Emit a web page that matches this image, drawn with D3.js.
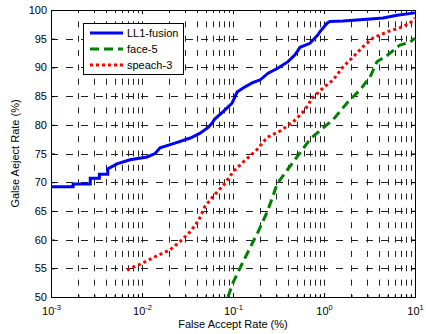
<!DOCTYPE html>
<html>
<head>
<meta charset="utf-8">
<script src="https://cdn.jsdelivr.net/npm/d3@7"></script>
<style>
  html, body { margin: 0; padding: 0; background: #fff; }
  svg { display: block; font-family: "Liberation Sans", Arial, sans-serif; }
</style>
</head>
<body>
<svg id="chart" width="426" height="334"></svg>
<script>
// DET curves: false accept rate (%) vs false reject rate (%)
const seriesNames = ["LL1-fusion", "face-5", "speach-3"];
const seriesColors = ["#0000ff", "#008000", "#ff0000"];

const fusionFar = [0.001, 0.00175, 0.00175, 0.0027, 0.0027, 0.0034, 0.0034, 0.0042, 0.0042, 0.0053, 0.0074, 0.0114, 0.0139, 0.0158, 0.023, 0.034, 0.043, 0.053, 0.059, 0.063, 0.078, 0.098, 0.111, 0.129, 0.162, 0.198, 0.243, 0.313, 0.402, 0.48, 0.545, 0.70, 0.86, 0.90, 1.08, 1.16, 1.62, 2.97, 4.45, 6.34, 10];
const fusionFrr = [69.2, 69.2, 69.7, 69.7, 70.7, 70.7, 71.4, 71.4, 72.3, 73.2, 73.9, 74.4, 75.0, 76.0, 76.8, 77.7, 78.5, 79.5, 80.3, 81.0, 82.3, 83.8, 85.7, 86.4, 87.3, 87.8, 89.0, 89.9, 91.0, 92.2, 93.5, 94.2, 95.7, 96.2, 97.7, 98.0, 98.1, 98.4, 98.6, 99.1, 99.5];

const faceFar = [0.088, 0.1, 0.119, 0.154, 0.188, 0.237, 0.275, 0.305, 0.402, 0.545, 0.702, 0.904, 1.26, 1.79, 2.49, 3.2, 3.82, 5.05, 6.84, 8.81, 10];
const faceFrr = [50.0, 52.5, 55.0, 58.6, 61.3, 64.8, 67.6, 69.7, 72.3, 75.1, 77.5, 79.0, 80.9, 83.8, 86.1, 88.3, 91.0, 92.2, 93.9, 94.4, 95.1];

const speechFar = [0.00684, 0.0095, 0.0139, 0.0203, 0.0268, 0.0345, 0.0423, 0.0492, 0.0603, 0.0817, 0.1, 0.129, 0.184, 0.237, 0.337, 0.48, 0.618, 0.738, 0.975, 1.26, 1.62, 2.08, 2.68, 3.45, 4.92, 6.84, 8.81, 10];
const speechFrr = [54.7, 55.7, 57.0, 58.2, 59.8, 61.5, 63.5, 65.8, 67.5, 69.8, 71.8, 73.5, 75.7, 77.8, 79.0, 80.8, 82.6, 84.6, 86.4, 87.8, 90.1, 91.8, 93.6, 95.1, 96.2, 96.9, 97.7, 98.6];

const xTickExponents = [-3, -2, -1, 0, 1];
const yTicks = [50, 55, 60, 65, 70, 75, 80, 85, 90, 95, 100];

const margin = { left: 51, right: 11, top: 10, bottom: 37 };
const W = 426, H = 334;
const svg = d3.select("#chart");

const x = d3.scaleLog().domain([1e-3, 10]).range([margin.left, W - margin.right]);
const y = d3.scaleLinear().domain([50, 100]).range([H - margin.bottom, margin.top]);

const [x0, x1] = x.range();
const [y0, y1] = y.range();

// grid lines at every log tick and every y tick
const minorX = [];
for (let e = -3; e < 1; e++) {
  for (let m = 1; m <= 9; m++) {
    const v = m * Math.pow(10, e);
    if (v > 1e-3) minorX.push(v);
  }
}
const vPeriod = (y0 - y1) / 20;
const grid = svg.append("g").attr("stroke", "#222").attr("stroke-width", 1).attr("fill", "none");
grid.selectAll("line.v").data(minorX).join("line")
  .attr("x1", d => Math.round(x(d)) + 0.5).attr("x2", d => Math.round(x(d)) + 0.5)
  .attr("y1", y0).attr("y2", y1)
  .attr("stroke-dasharray", `6,${vPeriod - 6}`)
  .attr("stroke-dashoffset", 3);
grid.selectAll("line.h").data(yTicks.slice(1, -1)).join("line")
  .attr("x1", x0).attr("x2", x1)
  .attr("y1", d => Math.round(y(d)) + 0.5).attr("y2", d => Math.round(y(d)) + 0.5)
  .attr("stroke-dasharray", "7,8");

// axes with inward ticks
const yAxis = d3.axisLeft(y).tickValues(yTicks).tickSize(-4).tickPadding(4);
const gy = svg.append("g").attr("transform", `translate(${x0},0)`).call(yAxis);
gy.select(".domain").remove();
gy.selectAll("text").attr("font-size", 11).attr("fill", "#000")
  .attr("font-family", "Liberation Sans, Arial, sans-serif");

const gyR = svg.append("g").attr("transform", `translate(${x1},0)`)
  .call(d3.axisRight(y).tickValues(yTicks).tickSize(-4).tickFormat(""));
gyR.select(".domain").remove();

const xMajor = xTickExponents.map(e => Math.pow(10, e));
const gx = svg.append("g").attr("transform", `translate(0,${y0})`)
  .call(d3.axisBottom(x).tickValues(xMajor).tickSize(-4).tickFormat(""));
gx.select(".domain").remove();
gx.selectAll(".tick").append("text")
  .attr("fill", "#000").attr("font-size", 11).attr("y", 18).attr("text-anchor", "middle")
  .each(function (d, i) {
    const t = d3.select(this);
    t.append("tspan").text("10");
    t.append("tspan").attr("dy", -5).attr("font-size", 7.5).text(String(xTickExponents[i]));
  });
const gxMinor = svg.append("g").attr("transform", `translate(0,${y0})`)
  .call(d3.axisBottom(x).tickValues(minorX.filter(v => !xMajor.includes(v))).tickSize(-2).tickFormat(""));
gxMinor.select(".domain").remove();

svg.append("g").attr("transform", `translate(0,${y1})`)
  .call(d3.axisTop(x).tickValues(xMajor).tickSize(-4).tickFormat(""))
  .select(".domain").remove();

// plot frame
svg.append("rect").attr("x", x0 + 0.5).attr("y", y1 + 0.5)
  .attr("width", x1 - x0).attr("height", y0 - y1)
  .attr("fill", "none").attr("stroke", "#000").attr("stroke-width", 1);

// curves
svg.append("defs").append("clipPath").attr("id", "plotClip")
  .append("rect").attr("x", x0).attr("y", y1).attr("width", x1 - x0 + 1).attr("height", y0 - y1);

const line = d3.line().x(d => x(d[0])).y(d => y(d[1]));
const curves = [
  { data: d3.zip(fusionFar, fusionFrr), color: seriesColors[0], dash: null },
  { data: d3.zip(faceFar, faceFrr), color: seriesColors[1], dash: "9,5" },
  { data: d3.zip(speechFar, speechFrr), color: seriesColors[2], dash: "3,3" }
];
const gCurves = svg.append("g").attr("clip-path", "url(#plotClip)");
curves.forEach(c => {
  gCurves.append("path").attr("d", line(c.data))
    .attr("fill", "none").attr("stroke", c.color).attr("stroke-width", 3)
    .attr("stroke-linejoin", "miter")
    .attr("stroke-dasharray", c.dash);
});

// legend
const legend = svg.append("g").attr("transform", "translate(83,23)");
legend.append("rect").attr("x", 0.5).attr("y", 0.5).attr("width", 100).attr("height", 51)
  .attr("fill", "#fff").attr("stroke", "#000").attr("stroke-width", 1);
seriesNames.forEach((name, i) => {
  const ry = 10 + i * 16;
  legend.append("line").attr("x1", 7).attr("x2", 40).attr("y1", ry).attr("y2", ry)
    .attr("stroke", curves[i].color).attr("stroke-width", 3)
    .attr("stroke-dasharray", curves[i].dash);
  legend.append("text").attr("x", 44).attr("y", ry + 4)
    .attr("font-size", 11).attr("fill", "#000").text(name);
});

// axis titles
svg.append("text").attr("x", (x0 + x1) / 2).attr("y", 328)
  .attr("text-anchor", "middle").attr("font-size", 11).attr("fill", "#000")
  .text("False Accept Rate (%)");
svg.append("text").attr("transform", `translate(19,${(y0 + y1) / 2}) rotate(-90)`)
  .attr("text-anchor", "middle").attr("font-size", 11).attr("fill", "#000")
  .text("Galse Aeject Rate (%)");
</script>
</body>
</html>
